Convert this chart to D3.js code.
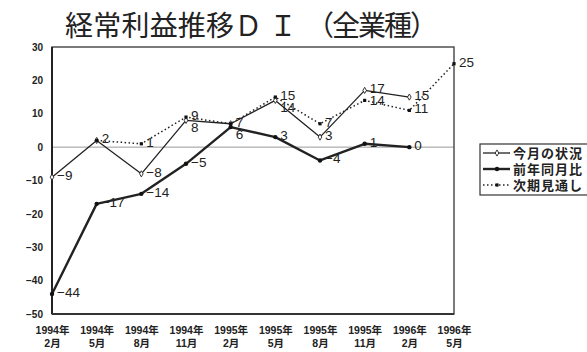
<!DOCTYPE html>
<html lang="ja">
<head>
<meta charset="utf-8">
<title>経常利益推移DI</title>
<script src="https://cdnjs.cloudflare.com/ajax/libs/d3/7.8.5/d3.min.js"></script>
<style>
  body { margin: 0; background: #fff; }
  svg { display: block; }
  .tick text { font-family: "Liberation Sans", "Noto Sans CJK JP", sans-serif; font-weight: bold; fill: #222; }
  .lbl { font-family: "Liberation Sans", Arial, sans-serif; font-size: 13.5px; fill: #222; }
</style>
</head>
<body>
<svg id="chart" width="587" height="352"></svg>
<script>
// x categories (survey months)
var categories = ["1994年2月", "1994年5月", "1994年8月", "1994年11月", "1995年2月",
                  "1995年5月", "1995年8月", "1995年11月", "1996年2月", "1996年5月"];
var yTicks = [30, 20, 10, 0, -10, -20, -30, -40, -50];

// series values (null = no point)
var konGetsu = [-9, 2, -8, 8, 7, 14, 3, 17, 15, null];      // 今月の状況
var zenNen   = [-44, -17, -14, -5, 6, 3, -4, 1, 0, null];   // 前年同月比
var jiKi     = [null, 2, 1, 9, 7, 15, 7, 14, 11, 25];       // 次期見通し

var seriesNames = ["今月の状況", "前年同月比", "次期見通し"];

var svg = d3.select("#chart");
var pLeft = 52, pRight = 454, pTop = 47, pBottom = 314;

var x = d3.scalePoint().domain(categories).range([pLeft, pRight]);
var y = d3.scaleLinear().domain([-50, 30]).range([pBottom, pTop]);

// title
var title = svg.append("text")
    .attr("y", 36)
    .style("font-family", "'Noto Sans CJK JP', sans-serif")
    .style("font-size", "28px")
    .style("fill", "#222");
title.append("tspan").attr("x", 65).attr("textLength", 232).attr("lengthAdjust", "spacing")
    .text("経常利益推移Ｄ Ｉ");
title.append("tspan").attr("x", 306).style("letter-spacing", "-2px")
    .text("（全業種）");

// zero line
svg.append("line")
    .attr("x1", pLeft).attr("x2", pRight)
    .attr("y1", y(0)).attr("y2", y(0))
    .style("stroke", "#999").style("stroke-width", 1);

// frame
svg.append("rect")
    .attr("x", pLeft).attr("y", pTop)
    .attr("width", pRight - pLeft).attr("height", pBottom - pTop)
    .style("fill", "none").style("stroke", "#444").style("stroke-width", 1.4);
svg.append("line")
    .attr("x1", pLeft).attr("x2", pLeft).attr("y1", pTop).attr("y2", pBottom)
    .style("stroke", "#222").style("stroke-width", 2);
svg.append("line")
    .attr("x1", pLeft).attr("x2", pRight).attr("y1", pBottom).attr("y2", pBottom)
    .style("stroke", "#333").style("stroke-width", 1.8);

// y axis
var yAxis = svg.append("g")
    .attr("transform", "translate(" + pLeft + ",0)")
    .call(d3.axisLeft(y).tickValues(yTicks).tickSize(0).tickPadding(9));
yAxis.select(".domain").remove();
yAxis.selectAll("text").style("font-size", "10px");

// x axis, two line labels
var xAxis = svg.append("g")
    .attr("transform", "translate(0," + pBottom + ")")
    .call(d3.axisBottom(x).tickSize(0));
xAxis.select(".domain").remove();
xAxis.selectAll("text").each(function(d) {
    var t = d3.select(this).text("").attr("y", 0).attr("dy", null).style("font-size", "10.5px");
    var parts = d.split("年");
    t.append("tspan").attr("x", 0).attr("y", 20).text(parts[0] + "年");
    t.append("tspan").attr("x", 0).attr("y", 33).text(parts[1]);
});

var series = [
    { name: seriesNames[0], vals: konGetsu, width: 1.3, dash: null, marker: "diamond" },
    { name: seriesNames[1], vals: zenNen, width: 2.4, dash: null, marker: "circle" },
    { name: seriesNames[2], vals: jiKi, width: 1.5, dash: "1.5,2.5", marker: "square" }
];

var line = d3.line()
    .defined(d => d.v != null)
    .x(d => x(d.c))
    .y(d => y(d.v));

function drawMarker(g, kind, cx, cy) {
    if (kind == "diamond") {
        g.append("path")
            .attr("d", d3.symbol().type(d3.symbolDiamond).size(11)())
            .attr("transform", "translate(" + cx + "," + cy + ")")
            .style("fill", "#fff").style("stroke", "#222").style("stroke-width", 0.9);
    } else if (kind == "circle") {
        g.append("circle").attr("cx", cx).attr("cy", cy).attr("r", 2.2).style("fill", "#111");
    } else {
        g.append("rect").attr("x", cx - 1.6).attr("y", cy - 1.6)
            .attr("width", 3.2).attr("height", 3.2).style("fill", "#111");
    }
}

series.forEach(s => {
    var pts = categories.map((c, i) => ({ c: c, v: s.vals[i] }));
    svg.append("path")
        .datum(pts)
        .attr("d", line)
        .style("fill", "none")
        .style("stroke", "#222")
        .style("stroke-width", s.width)
        .style("stroke-dasharray", s.dash)
        .style("stroke-linejoin", "round");
    var g = svg.append("g");
    pts.forEach(p => { if (p.v != null) drawMarker(g, s.marker, x(p.c), y(p.v)); });
});

// data labels, pushed apart when they crowd at the same month
categories.forEach((c, i) => {
    var vals = [];
    series.forEach(s => {
        var v = s.vals[i];
        if (v != null && vals.indexOf(v) < 0) vals.push(v);
    });
    vals.sort((a, b) => b - a);
    var lastY = -1e9;
    vals.forEach(v => {
        var ly = Math.max(y(v) - 2, lastY + 12);
        lastY = ly;
        svg.append("text")
            .attr("class", "lbl")
            .attr("x", x(c) + 5)
            .attr("y", ly)
            .attr("dy", "0.36em")
            .text(String(v).replace("-", "−"));
    });
});

// legend
var lg = svg.append("g").attr("transform", "translate(480,144)");
lg.append("rect")
    .attr("width", 115).attr("height", 51)
    .style("fill", "#fff").style("stroke", "#333").style("stroke-width", 1.2);
series.forEach((s, i) => {
    var ly = 9 + i * 16;
    lg.append("line")
        .attr("x1", 3).attr("x2", 30).attr("y1", ly).attr("y2", ly)
        .style("stroke", "#222").style("stroke-width", s.width)
        .style("stroke-dasharray", s.dash);
    drawMarker(lg, s.marker, 17, ly);
    lg.append("text")
        .attr("x", 33).attr("y", ly).attr("dy", "0.36em")
        .style("font-family", "'Noto Sans CJK JP', sans-serif")
        .style("font-weight", "bold")
        .style("font-size", "13px")
        .style("letter-spacing", "1px")
        .style("fill", "#222")
        .text(s.name);
});
</script>
</body>
</html>
